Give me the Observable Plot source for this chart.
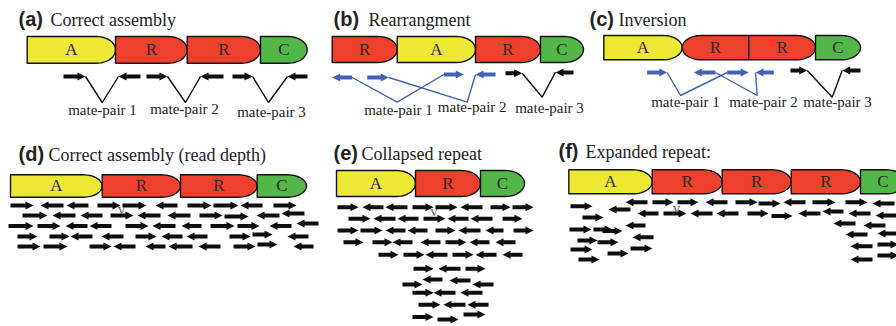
<!DOCTYPE html>
<html><head><meta charset="utf-8">
<script src="https://cdn.jsdelivr.net/npm/d3@7"></script>
<script src="https://cdn.jsdelivr.net/npm/@observablehq/plot@0.6"></script>
<style>html,body{margin:0;padding:0;background:#fff;overflow:hidden}</style>
</head><body><div id="chart"></div>
<script>
// Panel titles: [letter, name, letter x, name x, baseline y]
const titles = [
  ["(a)", "Correct assembly", 18, 50, 25],
  ["(b)", "Rearrangment", 333, 368, 25],
  ["(c)", "Inversion", 589, 618, 25],
  ["(d)", "Correct assembly (read depth)", 18, 48, 160],
  ["(e)", "Collapsed repeat", 333, 361, 159],
  ["(f)", "Expanded repeat:", 558, 585, 157]
];

// Assembly segments: [panel, segment, start, end, top, bottom, rounded end]
const blocks = [
  ["a","A",26.7,115,36,62.7,"right"],["a","R",115,186.7,36,62.7,"right"],["a","R",186.7,260,36,62.7,"right"],["a","C",260,306.7,36,62.7,"right"],
  ["b","R",331.7,396.7,36,62,"right"],["b","A",396.7,475,36,62,"right"],["b","R",475,540,36,62,"right"],["b","C",540,583,36,62,"right"],
  ["c","A",603.3,681.7,35,59.3,"right"],["c","R",681.7,748.3,35,59.3,"left"],["c","R",748.3,815,35,59.3,"right"],["c","C",815,860,35,59.3,"right"],
  ["d","A",10,101.7,174.3,196.7,"right"],["d","R",101.7,180,174.3,196.7,"right"],["d","R",180,256.7,174.3,196.7,"right"],["d","C",256.7,306,174.3,196.7,"right"],
  ["e","A",336,415,170,196,"right"],["e","R",415,480,170,196,"right"],["e","C",480,524,170,196,"right"],
  ["f","A",568.3,651.7,169.3,193.3,"right"],["f","R",651.7,721.7,169.3,193.3,"right"],["f","R",721.7,790.7,169.3,193.3,"right"],["f","R",790.7,860,169.3,193.3,"right"],["f","C",860,905,169.3,193.3,"right"]
];

// Mate-pair reads: [panel, start, end, y, direction, kind]
const mateReads = [
  ["a",63,85,76,"R","concordant"],["a",118,140,76,"L","concordant"],["a",146,167,76,"R","concordant"],["a",200,223,76,"L","concordant"],["a",232,252,76,"R","concordant"],["a",287,307,76,"L","concordant"],
  ["b",331.7,351.7,77,"L","discordant"],["b",366.7,388.3,77,"R","discordant"],["b",443.3,463.3,74,"R","discordant"],["b",475,495,74,"L","discordant"],["b",505,521.7,72.7,"R","concordant"],["b",555,573,72,"L","concordant"],
  ["c",646.7,666.7,72,"R","discordant"],["c",693.3,715,72,"L","discordant"],["c",726.7,748.3,72,"R","discordant"],["c",755,773.3,72,"L","discordant"],["c",790,806.7,70,"R","concordant"],["c",841.7,860,70,"L","concordant"]
];

// Mate-pair links: [panel, kind, vertices]
const mateLinks = [
  ["a","concordant",[[85,76],[101.7,102],[118,76]]],
  ["a","concordant",[[167,76],[185,102],[200,76]]],
  ["a","concordant",[[252,76],[268,102],[287,76]]],
  ["b","discordant",[[351.7,77],[396.7,101.7],[443.3,74]]],
  ["b","discordant",[[388.3,77],[466.7,101.7],[475,74]]],
  ["b","concordant",[[521.7,72.7],[541.7,96.7],[555,71.7]]],
  ["c","discordant",[[666.7,72],[680,95],[726.7,72]]],
  ["c","discordant",[[715,72],[756.7,95],[755,72]]],
  ["c","concordant",[[806.7,70],[831.7,96.7],[841.7,70]]]
];

// Mate-pair labels: [text, x, baseline y]
const mateLabels = [
  ["mate-pair 1",102,114.5],["mate-pair 2",184,113],["mate-pair 3",271,116],
  ["mate-pair 1",398,114],["mate-pair 2",471.7,111],["mate-pair 3",549,112.3],
  ["mate-pair 1",685,106],["mate-pair 2",763,106],["mate-pair 3",837,106]
];

// Read-depth reads: [start, end, y, direction]
const readsD = [
  [10,33,205,"R"],[40,63,205,"L"],[66,88,205,"L"],[97,120,205,"R"],[122,146,205,"R"],[155,177,205,"L"],[187,211,205,"R"],[213,238,205,"R"],[240,262,205,"L"],[273,296,205,"R"],
  [22,47,215,"R"],[52,75,215,"L"],[80,102,215,"L"],[110,133,215,"R"],[137,160,215,"L"],[167,190,215,"L"],[199,222,215,"R"],[224,248,216,"R"],[256,279,215,"L"],[281,304,213,"L"],
  [8,33,225.5,"R"],[37,60,225.5,"R"],[65,87,225.5,"L"],[89,111,225.5,"L"],[125,148,225.5,"R"],[152,175,225.5,"L"],[181,201,225.5,"L"],[210,234,225.5,"R"],[237,259,225.5,"R"],[269,291,225.5,"L"],[296,318,223,"L"],
  [17,37,236,"R"],[49,69,236,"R"],[70,92,236,"L"],[101,123,236,"L"],[135,156,236,"R"],[161,182,236,"L"],[186,207,236,"L"],[229,250,236,"R"],[252,272,234,"R"],[287,308,236,"L"],
  [17,40,246,"R"],[43,67,246,"R"],[89,111,246,"R"],[113,135,246,"L"],[145,165,246,"L"],[168,192,246,"L"],[198,220,246,"L"],[233,255,246,"R"],[257,277,244,"R"],[293,313,246,"L"]
];
const readsE = [
  [337,358,206.7,"R"],[362,383,206.7,"L"],[385,407,206.7,"L"],[412,433,206.7,"R"],[435,457,206.7,"R"],[460,482,206.7,"L"],[490,510,206.7,"R"],[512,533,206.7,"R"],
  [348,370,218.3,"R"],[373,395,218.3,"L"],[397,418,218.3,"L"],[423,445,218.3,"R"],[447,468,218.3,"L"],[470,492,218.3,"L"],[502,522,218.3,"R"],
  [337,358,230,"R"],[360,382,230,"R"],[385,405,230,"L"],[407,427,230,"L"],[435,455,230,"R"],[458,480,230,"L"],[485,503,230,"L"],[513,533,230,"R"],
  [343,363,241.7,"R"],[372,392,241.7,"R"],[392,412,241.7,"L"],[420,440,241.7,"L"],[445,466,241.7,"R"],[469,489,241.7,"L"],[495,515,241.7,"L"],
  [378,398,254.3,"R"],[403,424,254.3,"R"],[425,447,254.3,"L"],[452,473,254.3,"R"],[475,496,254.3,"L"],[502,522,254.3,"L"],
  [413,433,268.3,"R"],[438,460,268.3,"L"],[465,485,268.3,"R"],
  [402,422,284,"R"],[422,442,279,"L"],[449,470,280,"L"],[472,493,284,"L"],
  [412,433,292.3,"R"],[433,455,292.3,"L"],[460,482,292.3,"L"],
  [418,440,304.3,"R"],[443,465,304.3,"L"],[467,488,304.3,"L"],
  [412,433,316.5,"R"],[437,458,319,"R"],[463,485,314,"R"]
];
const readsF = [
  [625,647,201.7,"L"],[652,673,201.7,"R"],[677,698,201.7,"R"],[705,727,201.7,"L"],[735,757,201.7,"R"],[758,780,203,"R"],[783,805,201.7,"L"],[812,835,201.7,"R"],[845,867,201.7,"R"],[872,894,203,"L"],
  [637,658,213,"L"],[663,686,213,"R"],[690,712,213,"L"],[716,738,213,"L"],[747,768,213,"R"],[771,792,215.5,"R"],[798,820,213,"L"],[822,843,211,"L"],[848,870,213,"L"],[875,896,215,"L"],
  [570,592,205.7,"R"],[608,630,209,"L"],[582,603,217,"R"],[569,591,229,"R"],[593,612,229,"R"],[602,622,230.5,"R"],[625,645,225,"L"],[577,597,240,"R"],[597,618,241.7,"R"],[632,653,236.7,"L"],[570,592,249,"R"],[607,628,253,"R"],[630,652,248,"R"],[578,599,259,"R"],
  [833,855,223,"L"],[863,885,225,"L"],[845,867,234,"L"],[877,898,233,"L"],[850,872,245.7,"L"],[877,898,244,"R"],[850,872,259,"L"],[877,898,255,"R"]
];

// Small stray marks in the figure: [text, x, baseline y]
const strayMarks = [["v",121,213],["v",433.5,215.5],["v",676,212]];

// Colours
const kindDomain = ["A","R","C","concordant","discordant"];
const kindRange  = ["#ece834","#ee412d","#52b648","#0d0d0d","#4262b3"];

// ---------- geometry helpers (shapes only) ----------
function blockOutline(b, i) {
  const [panel, seg, x0, x1, t, bt, side] = b;
  const rw = Math.min(19, (x1 - x0) * 0.45), ym = (t + bt) / 2, hh = (bt - t) / 2;
  const pts = [];
  const n = 28;
  if (side === "right") {
    pts.push([x0, t]);
    for (let k = 0; k <= n; k++) { const a = -Math.PI/2 + Math.PI*k/n; pts.push([x1 - rw + rw*Math.cos(a), ym + hh*Math.sin(a)]); }
    pts.push([x0, bt], [x0, t]);
  } else {
    pts.push([x1, t]);
    for (let k = 0; k <= n; k++) { const a = -Math.PI/2 + Math.PI*k/n; pts.push([x0 + rw - rw*Math.cos(a), ym + hh*Math.sin(a)]); }
    pts.push([x1, bt], [x1, t]);
  }
  return pts.map(([x, y]) => ({id: "b" + i, kind: seg, x, y}));
}
function arrowOutline(x0, x1, y, dir, id, kind) {
  const h = 1.95, hw = 4.0, hl = 8;
  let pts;
  if (dir === "R") {
    const base = x1 - hl;
    pts = [[x0,y-h],[base,y-h],[base,y-hw],[x1,y],[base,y+hw],[base,y+h],[x0,y+h],[x0,y-h]];
  } else {
    const base = x0 + hl;
    pts = [[x1,y-h],[base,y-h],[base,y-hw],[x0,y],[base,y+hw],[base,y+h],[x1,y+h],[x1,y-h]];
  }
  return pts.map(([x, yy]) => ({id, kind, x, y: yy}));
}

const blockPts = blocks.flatMap(blockOutline);
const arrowPts = [
  ...mateReads.map((r, i) => arrowOutline(r[1], r[2], r[3], r[4], "m" + i, r[5])).flat(),
  ...[...readsD, ...readsE, ...readsF].map((r, i) => arrowOutline(r[0], r[1], r[2], r[3], "r" + i, "concordant")).flat()
];
const linkPts = mateLinks.flatMap((l, i) => l[2].map(([x, y]) => ({id: "l" + i, kind: l[1], x, y})));

const serif = "'Liberation Serif', 'Times New Roman', serif";
const sans = "'Liberation Sans', Arial, sans-serif";

const chart = Plot.plot({
  width: 896, height: 326,
  margin: 0,
  x: {domain: [0, 896], range: [0, 896], axis: null},
  y: {domain: [0, 326], range: [0, 326], axis: null},
  color: {domain: kindDomain, range: kindRange, legend: false},
  style: {background: "#fff", overflow: "hidden"},
  marks: [
    Plot.line(blockPts, {x: "x", y: "y", z: "id", fill: "kind", stroke: "#111", strokeWidth: 1.4, curve: "linear", strokeLinejoin: "round"}),
    Plot.text(blocks, {x: d => (d[2] + d[3]) / 2, y: d => (d[4] + d[5]) / 2, text: d => d[1], fontFamily: serif, fontSize: 17, fill: "#2a2a2a"}),
    Plot.line(linkPts, {x: "x", y: "y", z: "id", stroke: "kind", strokeWidth: 1.4, curve: "linear", strokeLinejoin: "miter", strokeLinecap: "butt"}),
    Plot.line(arrowPts, {x: "x", y: "y", z: "id", fill: "kind", stroke: "none", curve: "linear"}),
    Plot.text(mateLabels, {x: d => d[1], y: d => d[2], text: d => d[0], fontFamily: serif, fontSize: 15, fill: "#222", lineAnchor: "bottom", textAnchor: "middle"}),
    Plot.text(titles, {x: d => d[2], y: d => d[4], text: d => d[0], fontFamily: sans, fontWeight: "bold", fontSize: 20, fill: "#222", lineAnchor: "bottom", textAnchor: "start"}),
    Plot.text(titles, {x: d => d[3], y: d => d[4], text: d => d[1], fontFamily: serif, fontSize: 18, fill: "#222", lineAnchor: "bottom", textAnchor: "start"}),
    Plot.text(strayMarks, {x: d => d[1], y: d => d[2], text: d => d[0], fontFamily: serif, fontSize: 15, fill: "#666", lineAnchor: "bottom", textAnchor: "middle"})
  ]
});
document.getElementById("chart").appendChild(chart);
</script>
</body></html>
